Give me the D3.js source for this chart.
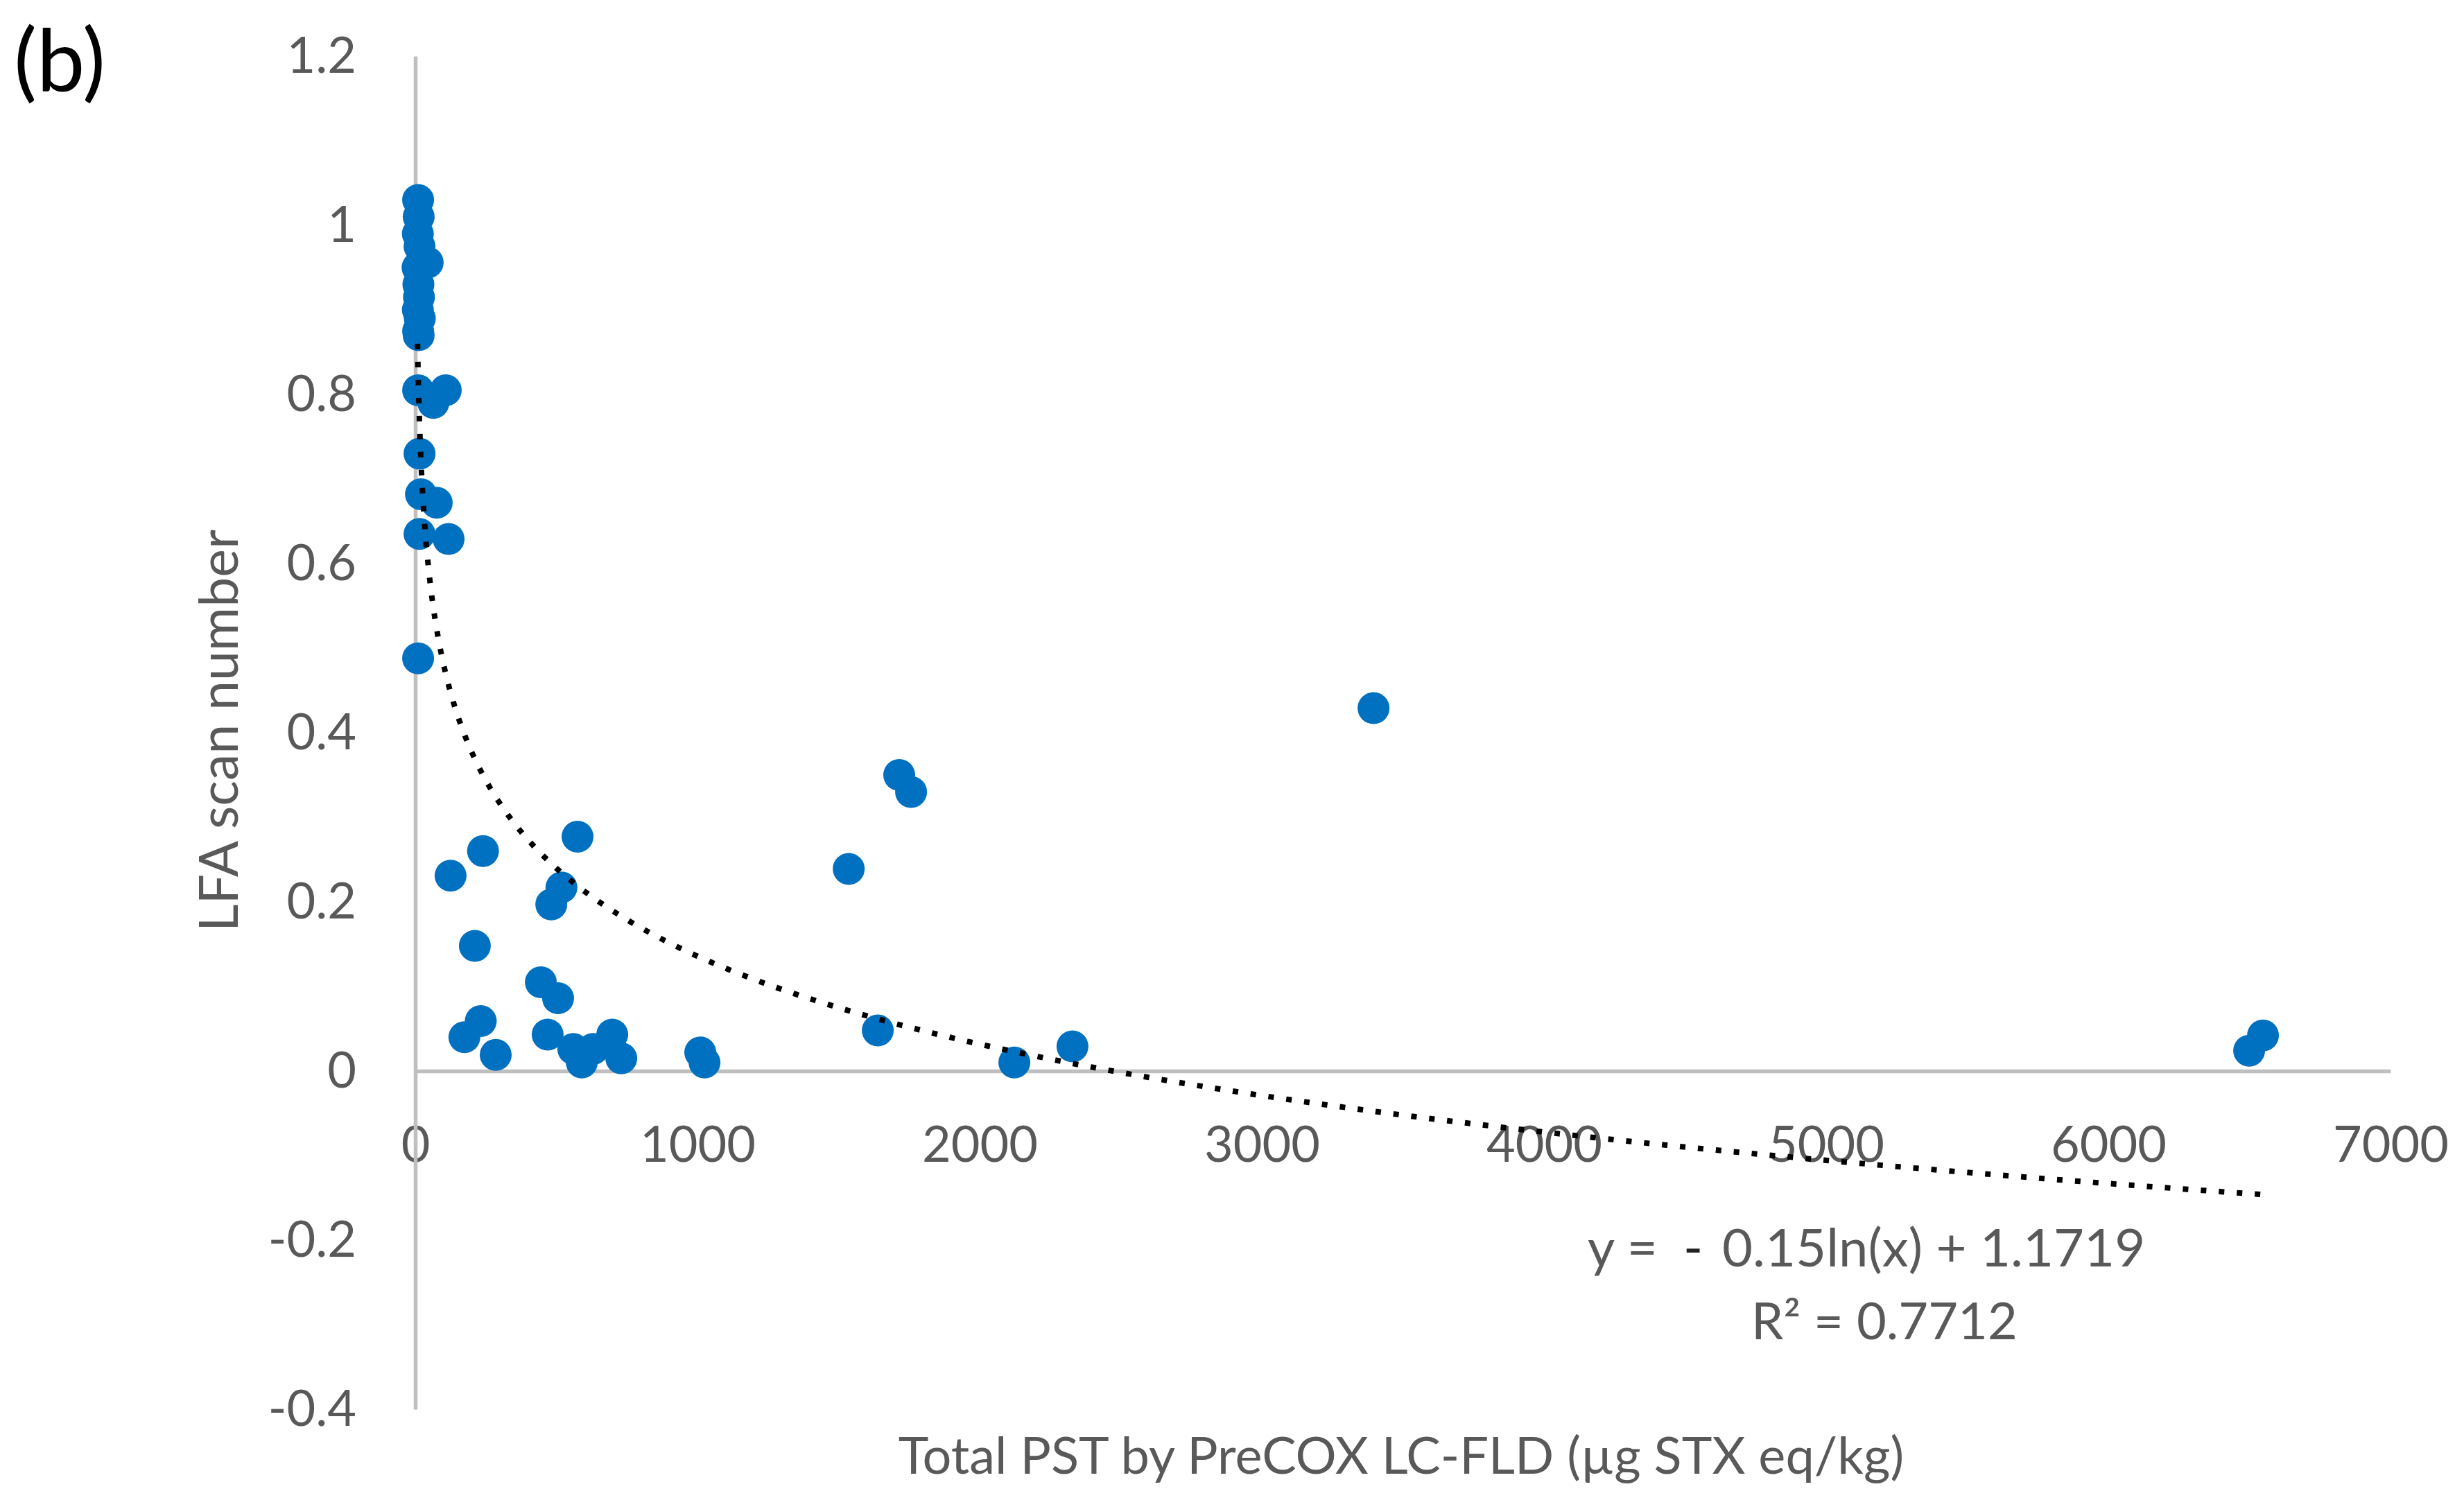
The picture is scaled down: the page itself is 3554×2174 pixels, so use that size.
<!DOCTYPE html>
<html>
<head>
<meta charset="utf-8">
<script src="https://cdn.jsdelivr.net/npm/d3@7"></script>
<style>
  body { margin: 0; background: #fff; }
  text { font-family: Lato, "Open Sans", sans-serif; }
</style>
</head>
<body>
<svg id="chart"></svg>
<script>
// values
const pstValues = [
  10, 12, 9, 15, 44, 8, 11, 13, 9, 16, 10, 12,
  10, 108, 64, 15, 20, 76, 15, 118, 10,
  125, 240, 575, 518, 482, 211, 445, 506, 174, 232, 285,
  469, 560, 590, 630, 698, 730, 1010, 1025,
  1536, 1715, 1757, 1639, 2123, 2329, 3396, 6499, 6548
];
const lfaValues = [
  1.03, 1.01, 0.99, 0.975, 0.956, 0.95, 0.93, 0.915, 0.9, 0.89, 0.875, 0.87,
  0.805, 0.805, 0.79, 0.73, 0.682, 0.672, 0.635, 0.629, 0.488,
  0.231, 0.26, 0.277, 0.217, 0.197, 0.148, 0.105, 0.086, 0.04, 0.059, 0.019,
  0.043, 0.026, 0.01, 0.026, 0.043, 0.015, 0.022, 0.01,
  0.239, 0.35, 0.33, 0.048, 0.01, 0.029, 0.429, 0.024, 0.042
];

const xTicks = [0, 1000, 2000, 3000, 4000, 5000, 6000, 7000];
const xTickLabels = ["0", "1000", "2000", "3000", "4000", "5000", "6000", "7000"];
const yTicks = [-0.4, -0.2, 0, 0.2, 0.4, 0.6, 0.8, 1, 1.2];
const yTickLabels = ["-0.4", "-0.2", "0", "0.2", "0.4", "0.6", "0.8", "1", "1.2"];

// trendline shown on the chart: y = -0.15 ln(x) + 1.1719
const trendSlope = -0.15;
const trendIntercept = 1.1719;

const width = 3554;
const height = 2174;
const grey = "#595959";

const svg = d3.select("#chart").attr("width", width).attr("height", height);

const x = d3.scaleLinear().domain([0, 7000]).range([599, 3448]);
const y = d3.scaleLinear().domain([-0.4, 1.2]).range([2033, 81]);

// axes
const xAxis = svg.append("g")
  .attr("transform", `translate(0,${y(0)})`)
  .call(d3.axisBottom(x).tickValues(xTicks)
    .tickFormat((d, i) => xTickLabels[i]).tickSize(0).tickPadding(80));

const yAxis = svg.append("g")
  .attr("transform", `translate(${x(0)},0)`)
  .call(d3.axisLeft(y).tickValues(yTicks)
    .tickFormat((d, i) => yTickLabels[i]).tickSize(0).tickPadding(85));

[xAxis, yAxis].forEach((g) => {
  g.select(".domain").attr("stroke", "#BFBFBF").attr("stroke-width", 5.5);
  g.selectAll("text")
    .attr("fill", grey)
    .style("font-size", "72px");
});

// points
const points = pstValues.map((v, i) => ({ x: v, y: lfaValues[i] }));
svg.append("g")
  .selectAll("circle")
  .data(points)
  .enter()
  .append("circle")
  .attr("cx", (d) => x(d.x))
  .attr("cy", (d) => y(d.y))
  .attr("r", 23)
  .attr("fill", "#0070C0");

// trendline from min to max x
const [xMin, xMax] = d3.extent(pstValues);
const trendPts = d3.range(0, 1.0001, 1 / 600).map((t) => {
  const xv = xMin * Math.pow(xMax / xMin, t);
  return [xv, trendSlope * Math.log(xv) + trendIntercept];
});
svg.append("path")
  .datum(trendPts)
  .attr("fill", "none")
  .attr("stroke", "#000")
  .attr("stroke-width", 8)
  .attr("stroke-dasharray", "8 18")
  .attr("d", d3.line().x((d) => x(d[0])).y((d) => y(d[1])));

// axis titles
svg.append("text")
  .attr("x", 2021)
  .attr("y", 2126)
  .attr("text-anchor", "middle")
  .attr("fill", grey)
  .style("font-size", "74px")
  .text("Total PST by PreCOX LC-FLD (µg STX eq/kg)");

svg.append("text")
  .attr("transform", "translate(343,1054) rotate(-90)")
  .attr("text-anchor", "middle")
  .attr("fill", grey)
  .style("font-size", "77px")
  .text("LFA scan number");

// equation
const eq = svg.append("text")
  .attr("y", 1827)
  .attr("fill", grey)
  .style("font-size", "76px");
eq.append("tspan").attr("x", 2290).text("y =");
eq.append("tspan").attr("x", 2428).attr("fill", "#222").text("-");
eq.append("tspan").attr("x", 2484).text("0.15ln(x) + 1.1719");

svg.append("text")
  .attr("x", 2718)
  .attr("y", 1932)
  .attr("text-anchor", "middle")
  .attr("fill", grey)
  .style("font-size", "74px")
  .text("R² = 0.7712");

svg.append("text")
  .attr("x", 20)
  .attr("y", 131)
  .attr("fill", "#000")
  .style("font-size", "124px")
  .text("(b)");
</script>
</body>
</html>
